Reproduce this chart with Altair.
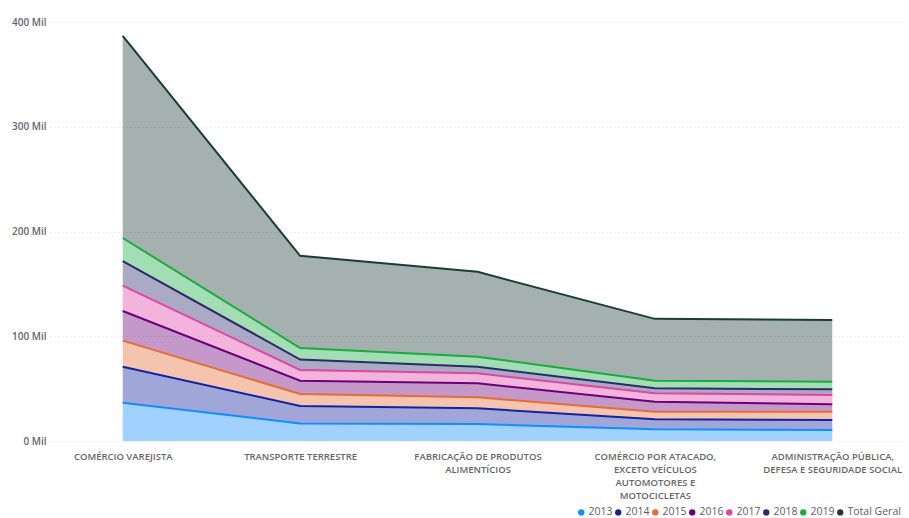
import json
import altair as alt
import pandas as pd

# Sector labels ("|" marks a line break in the axis label)
categories = [
    "COMÉRCIO VAREJISTA",
    "TRANSPORTE TERRESTRE",
    "FABRICAÇÃO DE PRODUTOS|ALIMENTÍCIOS",
    "COMÉRCIO POR ATACADO,|EXCETO VEÍCULOS|AUTOMOTORES E|MOTOCICLETAS",
    "ADMINISTRAÇÃO PÚBLICA,|DEFESA E SEGURIDADE SOCIAL",
]

series = ["2013", "2014", "2015", "2016", "2017", "2018", "2019", "Total Geral"]

# Values in thousands ("Mil")
v2013 = [36.6, 16.7, 16.2, 11.2, 10.5]
v2014 = [34.3, 16.7, 15.0, 9.5, 9.5]
v2015 = [24.9, 11.5, 10.5, 7.3, 8.0]
v2016 = [28.3, 12.7, 13.4, 9.5, 7.0]
v2017 = [24.2, 10.2, 9.5, 8.0, 8.9]
v2018 = [23.5, 10.0, 6.3, 4.8, 5.5]
v2019 = [22.0, 11.0, 9.6, 7.3, 7.2]
total = [193.0, 88.0, 81.0, 59.0, 59.0]

colors = ["#118DFF", "#12239E", "#E66C37", "#6B007B", "#E044A7",
          "#2B2A6B", "#1AAB40", "#1B3D34"]

y_ticks = [0, 100, 200, 300, 400]

rows = []
for s_idx, (name, vals) in enumerate(zip(series, [v2013, v2014, v2015, v2016, v2017, v2018, v2019, total])):
    for c_idx, v in enumerate(vals):
        rows.append({"pos": c_idx, "serie": name, "ordem": s_idx, "valor": v})
df = pd.DataFrame(rows)

label_expr = "split(" + json.dumps(categories, ensure_ascii=False) + "[datum.value], '|')"

FONT = "Open Sans"
GREY = "#666666"

base = alt.Chart(df).transform_stack(
    stack="valor",
    groupby=["pos"],
    as_=["y0", "y1"],
    sort=[alt.SortField("ordem", order="ascending")],
)

x_enc = alt.X(
    "pos:Q",
    scale=alt.Scale(domain=[-0.41, 4.41], nice=False, zero=False),
    axis=alt.Axis(
        values=[0, 1, 2, 3, 4],
        labelExpr=label_expr,
        title=None,
        grid=False,
        domain=False,
        ticks=False,
        labelFont=FONT,
        labelFontSize=9.5,
        labelFontWeight=600,
        labelColor=GREY,
        labelPadding=10,
        labelLineHeight=13,
        labelBaseline="top",
        labelOverlap=False,
        labelBound=False,
        labelFlush=False,
    ),
)

y_scale = alt.Scale(domain=[0, 400], nice=False)

area = base.mark_area(fillOpacity=0.4, interpolate="linear").encode(
    x=x_enc,
    y=alt.Y(
        "y1:Q",
        scale=y_scale,
        axis=alt.Axis(
            values=y_ticks,
            labelExpr="datum.value + ' Mil'",
            title=None,
            domain=False,
            ticks=False,
            grid=True,
            gridColor="#d9d9d9",
            gridDash=[1, 3],
            labelFont=FONT,
            labelFontSize=10,
            labelFontWeight=600,
            labelColor=GREY,
            labelPadding=4,
        ),
    ),
    y2="y0:Q",
    fill=alt.Fill(
        "serie:N",
        scale=alt.Scale(domain=series, range=colors),
        sort=series,
        legend=alt.Legend(
            title=None,
            orient="none",
            legendX=526,
            legendY=485,
            direction="horizontal",
            columns=8,
            symbolType="circle",
            symbolSize=40,
            symbolOpacity=1,
            symbolStrokeWidth=0,
            labelFont=FONT,
            labelFontSize=10.5,
            labelColor="#605E5C",
            labelOffset=2,
            columnPadding=0,
        ),
    ),
)

lines = base.mark_line(strokeWidth=2, interpolate="linear").encode(
    x=x_enc,
    y=alt.Y("y1:Q", scale=y_scale),
    stroke=alt.Stroke(
        "serie:N",
        scale=alt.Scale(domain=series, range=colors),
        legend=None,
    ),
    detail="serie:N",
)

chart = (
    alt.layer(area, lines)
    .properties(
        width=855,
        height=419,
        autosize=alt.AutoSizeParams(type="none"),
        padding={"left": 50, "top": 22, "right": 4, "bottom": 77},
        background="white",
    )
    .configure_view(stroke=None)
)

chart.save("out.html", embed_options={"renderer": "svg", "actions": False})
